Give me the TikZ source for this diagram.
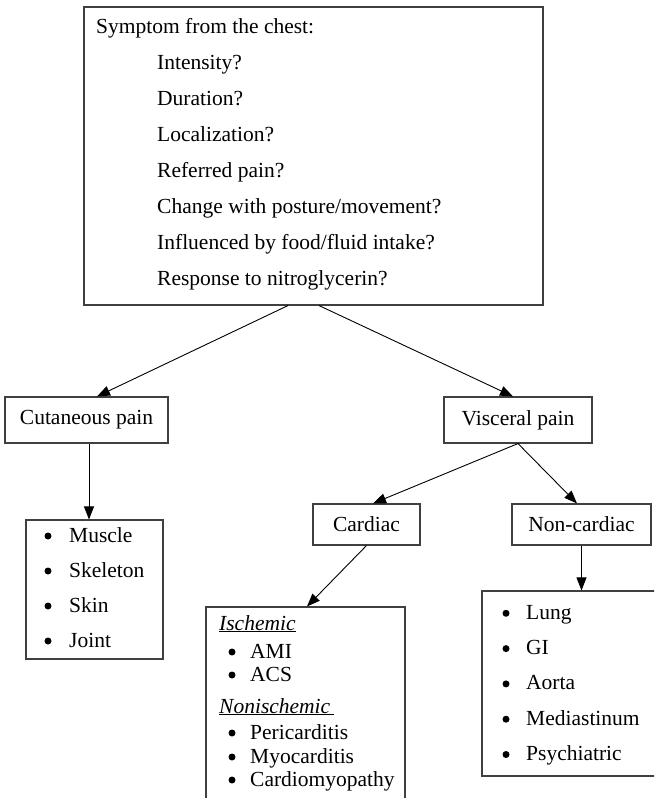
\documentclass[tikz,border=0pt]{standalone}
\usepackage{fontspec}
\setmainfont{Liberation Serif}
\usetikzlibrary{arrows.meta}
\tikzset{
  box/.style={draw=black!75, line width=1.1pt, inner sep=0pt, rectangle},
  conn/.style={draw=black, line width=0.9pt, -{Triangle[length=13pt,width=10pt]}},
  txt/.style={inner sep=0pt, anchor=base west},
  bul/.style={circle, fill=black, inner sep=0pt, minimum size=7pt, yshift=6pt},
}
\begin{document}
\begin{tikzpicture}[x=1pt,y=-1pt,font=\fontsize{21.5}{25}\selectfont]
\useasboundingbox (0,0) rectangle (654,798);
\clip (0,0) rectangle (654,798);
% boxes
\node[box, minimum width=459pt, minimum height=298pt] (top) at (313.5,156) {};
\node[box, minimum width=163pt, minimum height=46pt] (cut) at (86.5,420) {Cutaneous pain};
\node[box, minimum width=137pt, minimum height=139pt] (culist) at (94.5,589.5) {};
\node[box, minimum width=148pt, minimum height=46pt] (visc) at (518,420) {Visceral pain};
\node[box, minimum width=107pt, minimum height=41pt] (card) at (366.5,524.5) {Cardiac};
\node[box, minimum width=139pt, minimum height=41pt] (nonc) at (581.5,524.5) {Non-cardiac};
\node[box, minimum width=182pt, minimum height=185pt] (ncl) at (573,683.5) {};
\node[box, minimum width=199pt, minimum height=223pt] (cdl) at (305.5,718.5) {};
% top box text
\node[txt] (t0) at (96,33) {Symptom from the chest:};
\foreach \t [count=\i] in {Intensity?, Duration?, Localization?, Referred pain?, Change with posture/movement?, Influenced by food/fluid intake?, Response to nitroglycerin?}
  \node[txt] (t\i) at (157,{33+36.1*\i}) {\t};
% cutaneous list
\foreach \t [count=\i] in {Muscle, Skeleton, Skin, Joint} {
  \node[bul] (cb\i) at (48,{507+35*\i}) {};
  \node[txt] (ct\i) at (69,{507+35*\i}) {\t};
}
% non-cardiac list
\foreach \t [count=\i] in {Lung, GI, Aorta, Mediastinum, Psychiatric} {
  \node[bul] (nb\i) at (506,{584+35.3*\i}) {};
  \node[txt] (nt\i) at (526,{584+35.3*\i}) {\t};
}
% cardiac list
\node[txt] (isch) at (219,630) {\underline{\textit{Ischemic}}};
\node[bul] (kb1) at (232,658) {};
\node[txt] (kt1) at (250,658) {AMI};
\node[bul] (kb2) at (232,681) {};
\node[txt] (kt2) at (250,681) {ACS};
\node[txt] (nisch) at (219,713) {\underline{\textit{Nonischemic}\,}};
\node[bul] (kb3) at (232,739) {};
\node[txt] (kt3) at (250,739) {Pericarditis};
\node[bul] (kb4) at (232,763) {};
\node[txt] (kt4) at (250,763) {Myocarditis};
\node[bul] (kb5) at (232,786) {};
\node[txt] (kt5) at (250,786) {Cardiomyopathy};
% connectors
\draw[conn] ([xshift=-25.5pt]top.south) -- ([xshift=10.5pt]cut.north);
\draw[conn] ([xshift=5.5pt]top.south) -- ([xshift=-5pt]visc.north);
\draw[conn] ([xshift=2.5pt]cut.south) -- ([xshift=-5.5pt]culist.north);
\draw[conn] (visc.south) -- ([xshift=6.5pt]card.north);
\draw[conn] (visc.south) -- ([xshift=-4.5pt]nonc.north);
\draw[conn] (nonc.south) -- (nonc.south |- ncl.north);
\draw[conn] (card.south) -- ([xshift=1.5pt]cdl.north);
\end{tikzpicture}
\end{document}
